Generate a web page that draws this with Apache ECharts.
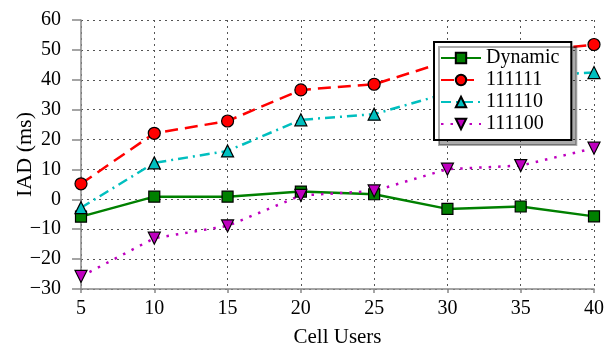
<!DOCTYPE html>
<html>
<head>
<meta charset="utf-8">
<script src="https://cdn.jsdelivr.net/npm/echarts@6/dist/echarts.min.js"></script>
<style>
  html, body { margin: 0; padding: 0; background: #fff; }
  #chart { width: 605px; height: 352px; }
</style>
</head>
<body>
<div id="chart"></div>
<script>
const users = [5, 10, 15, 20, 25, 30, 35, 40]
const dynamic = [-5.8, 0.9, 0.9, 2.6, 1.7, -3.2, -2.4, -5.7]
const cfg111111 = [5.2, 22.1, 26.2, 36.6, 38.5, 46.2, 49.0, 51.8]
const cfg111110 = [-2.8, 12.2, 16.2, 26.6, 28.5, 35.5, 41.2, 42.4]
const cfg111100 = [-25.8, -13.0, -8.9, 1.3, 2.8, 10.1, 11.3, 17.1]

const font = 'Liberation Serif'
const gridLine = { show: true, lineStyle: { color: '#555', type: [2, 4], width: 1 } }

function pairs(vals) {
  return users.map((u, i) => [u, vals[i]])
}

function line(name, vals, color, dash, symbol, size) {
  return {
    name,
    type: 'line',
    data: pairs(vals),
    symbol,
    symbolSize: size,
    showAllSymbol: true,
    lineStyle: { color, width: 2.5, type: dash },
    itemStyle: { color, borderColor: '#000', borderWidth: 1.2 },
    emphasis: { disabled: true },
    animation: false
  }
}

const chart = echarts.init(document.getElementById('chart'))
chart.setOption({
  animation: false,
  grid: { left: 81, right: 11, top: 20, bottom: 63, outerBoundsMode: 'none', containLabel: false },
  legend: {
    left: 434,
    top: 42,
    orient: 'vertical',
    backgroundColor: '#fff',
    borderColor: '#000',
    borderWidth: 2,
    borderRadius: 0,
    shadowColor: 'rgba(0,0,0,0.33)',
    shadowBlur: 0,
    shadowOffsetX: 5,
    shadowOffsetY: 5,
    padding: [6, 12, 6, 6],
    itemWidth: 40,
    itemHeight: 13,
    itemGap: 2,
    itemTextGap: 11,
    textStyle: { fontFamily: font, fontSize: 20, color: '#000', lineHeight: 20 },
    data: ['Dynamic', '111111', '111110', '111100']
  },
  xAxis: {
    type: 'value',
    min: 5,
    max: 40,
    interval: 5,
    name: 'Cell Users',
    nameLocation: 'middle',
    nameGap: 38,
    nameMoveOverlap: false,
    nameTextStyle: { fontFamily: font, fontSize: 21, color: '#000' },
    axisLine: { onZero: false, lineStyle: { color: '#888', width: 1.5 } },
    axisTick: { show: true, length: 4, lineStyle: { color: '#888', width: 1.5 } },
    axisLabel: { fontFamily: font, fontSize: 20, color: '#000', margin: 10 },
    splitLine: gridLine
  },
  yAxis: {
    type: 'value',
    min: -30,
    max: 60,
    interval: 10,
    name: 'IAD (ms)',
    nameLocation: 'middle',
    nameGap: 56,
    nameMoveOverlap: false,
    nameTextStyle: { fontFamily: font, fontSize: 22, color: '#000', verticalAlign: 'middle' },
    axisLine: { show: true, onZero: false, lineStyle: { color: '#888', width: 1.5 } },
    axisTick: { show: true, length: 9, lineStyle: { color: '#888', width: 1.5 } },
    axisLabel: {
      fontFamily: font, fontSize: 20, color: '#000', margin: 20,
      formatter: v => String(v).replace('-', '\u2212')
    },
    splitLine: gridLine
  },
  series: [
    line('Dynamic', dynamic, '#008000', 'solid', 'rect', 11),
    line('111111', cfg111111, '#ff0000', [13, 7], 'circle', 12),
    line('111110', cfg111110, '#00bfbf', [10, 5, 2, 5], 'triangle', 12),
    line('111100', cfg111100, '#bf00bf', [2.5, 7], 'path://M0,0 L10,0 L5,9 Z', 12)
  ]
})
</script>
</body>
</html>
